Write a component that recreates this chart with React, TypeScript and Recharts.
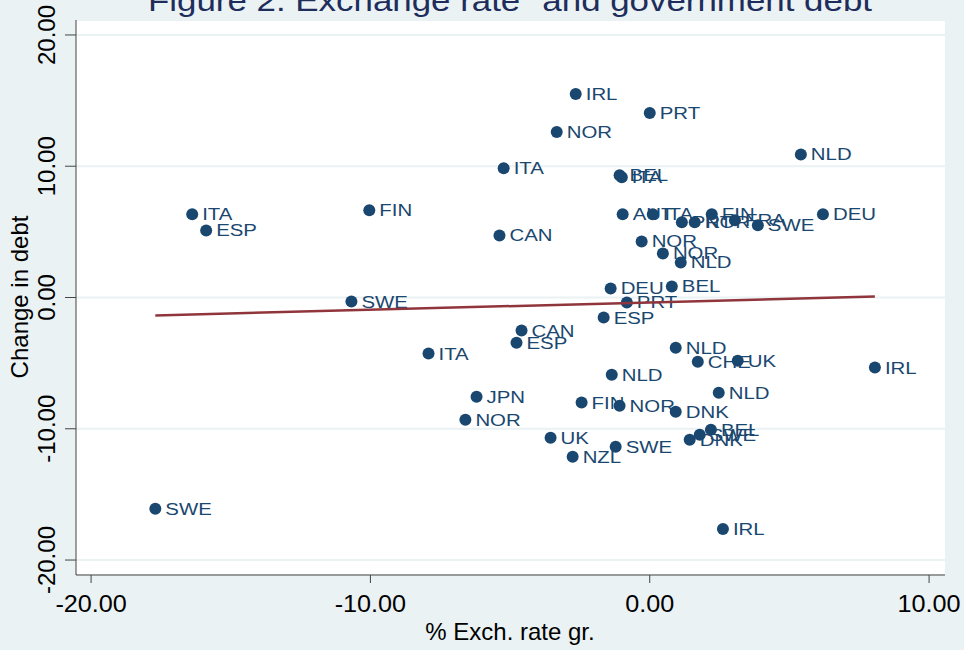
import { ScatterChart, Scatter, XAxis, YAxis, CartesianGrid } from "recharts";

// country codes, % exchange rate growth, change in debt
const countries = [
  "IRL", "PRT", "NOR", "NLD", "ITA", "BEL", "ITA", "ITA", "ESP", "FIN",
  "CAN", "AUT", "ITA", "PRT", "NOR", "FIN", "FRA", "SWE", "DEU", "NOR",
  "NOR", "NLD", "DEU", "BEL", "PRT", "ESP", "SWE", "CAN", "ESP", "ITA",
  "NLD", "CHE", "UK", "IRL", "NLD", "NLD", "JPN", "FIN", "NOR", "DNK",
  "NOR", "UK", "SWE", "NZL", "DNK", "SWE", "BEL", "SWE", "IRL",
];
const exchGrowth = [
  -2.65, 0.0, -3.33, 5.41, -5.23, -1.08, -1.0, -16.38, -15.88, -10.04,
  -5.38, -0.97, 0.11, 1.15, 1.61, 2.22, 3.05, 3.87, 6.2, -0.29,
  0.47, 1.11, -1.4, 0.79, -0.82, -1.65, -10.68, -4.59, -4.77, -7.92,
  0.93, 1.72, 3.15, 8.06, -1.36, 2.47, -6.2, -2.44, -1.08, 0.93,
  -6.6, -3.55, -1.22, -2.76, 1.43, 1.79, 2.19, -17.7, 2.62,
];
const debtChange = [
  15.5, 14.05, 12.6, 10.9, 9.85, 9.31, 9.16, 6.34, 5.11, 6.64,
  4.73, 6.34, 6.34, 5.73, 5.73, 6.34, 5.88, 5.5, 6.34, 4.27,
  3.36, 2.67, 0.69, 0.84, -0.38, -1.53, -0.31, -2.52, -3.44, -4.27,
  -3.82, -4.89, -4.81, -5.34, -5.88, -7.25, -7.56, -8.0, -8.24, -8.7,
  -9.31, -10.69, -11.37, -12.14, -10.84, -10.46, -10.08, -16.1, -17.63,
];

// fitted line end points
const fitX = [-17.7, 8.06];
const fitY = [-1.37, 0.08];

const xTicks = [-20, -10, 0, 10];
const yTicks = [-20, -10, 0, 10, 20];

const points = countries.map((c, i) => ({ x: exchGrowth[i], y: debtChange[i], label: c }));
const fitData = fitX.map((x, i) => ({ x, y: fitY[i] }));

const FONT = "'Liberation Sans', Arial, Helvetica, sans-serif";
const NAVY = "#1a476f";
const BG = "#eaf2f3";

const Marker = (props: any) => {
  const { cx, cy, payload } = props;
  return (
    <g>
      <circle cx={cx} cy={cy} r={6} fill={NAVY} />
      <text
        transform={`translate(${cx + 10}, ${cy + 6}) scale(1.2, 1)`}
        fill={NAVY}
        fontSize={17}
        fontFamily={FONT}
      >
        {payload.label}
      </text>
    </g>
  );
};

const XTick = (props: any) => {
  const { x, y, payload } = props;
  return (
    <text
      transform={`translate(${x}, ${y + 27}) scale(1.05, 1)`}
      textAnchor="middle"
      fontSize={24}
      fontFamily={FONT}
      fill="#000"
    >
      {payload.value.toFixed(2)}
    </text>
  );
};

const YTick = (props: any) => {
  const { y, payload } = props;
  return (
    <text x={55} y={y} transform={`rotate(-90, 55, ${y})`} textAnchor="middle" fontSize={24} fontFamily={FONT} fill="#000">
      {payload.value.toFixed(2)}
    </text>
  );
};

export default function App() {
  return (
    <div style={{ position: "relative", width: 964, height: 650, background: BG }}>
      <style>{`body{margin:0}`}</style>
      <ScatterChart width={964} height={650} margin={{ top: 20, right: 19, bottom: 0, left: 0 }}>
        <CartesianGrid vertical={false} stroke={BG} strokeWidth={2} fill="#fff" />
        <XAxis
          type="number"
          dataKey="x"
          domain={[-20.54, 10.57]}
          ticks={xTicks}
          allowDataOverflow
          height={75}
          tickSize={8}
          stroke="#444"
          tick={<XTick />}
        />
        <YAxis
          type="number"
          dataKey="y"
          domain={[-21.14, 21.14]}
          ticks={yTicks}
          allowDataOverflow
          width={76}
          tickSize={11}
          stroke="#444"
          tick={<YTick />}
        />
        <Scatter data={points} fill={NAVY} shape={<Marker />} isAnimationActive={false} />
        <Scatter
          data={fitData}
          line={{ stroke: "#90353b", strokeWidth: 2.5 }}
          shape={() => <g />}
          isAnimationActive={false}
        />
      </ScatterChart>
      <svg width={964} height={650} style={{ position: "absolute", left: 0, top: 0, pointerEvents: "none" }}>
        <text
          x={510}
          y={11}
          textAnchor="middle"
          fontSize={30}
          fontFamily={FONT}
          fill="#1e2d5c"
          textLength={724}
          lengthAdjust="spacingAndGlyphs"
        >
          Figure 2. Exchange rate "and government debt
        </text>
        <text x={510} y={640} textAnchor="middle" fontSize={24} fontFamily={FONT} fill="#000">
          % Exch. rate gr.
        </text>
        <text x={28} y={297} transform="rotate(-90, 28, 297)" textAnchor="middle" fontSize={24} fontFamily={FONT} fill="#000">
          Change in debt
        </text>
      </svg>
    </div>
  );
}
